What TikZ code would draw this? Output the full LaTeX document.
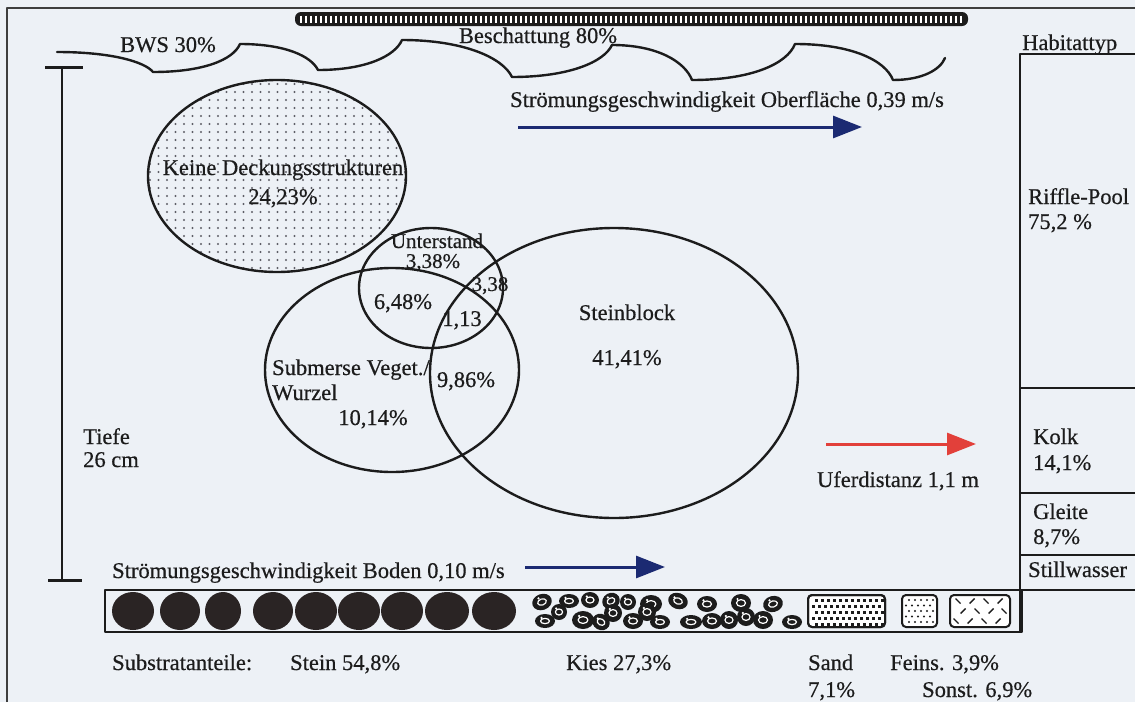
\documentclass[tikz,border=0pt]{standalone}
\usepackage{fontspec}
\setmainfont{Liberation Serif}
\newfontfamily\inkfont{Liberation Serif}[FakeBold=0.5]
\usetikzlibrary{arrows.meta,calc}
\definecolor{paper}{HTML}{EDF1F6}
\definecolor{ink}{HTML}{1C1C1C}
\definecolor{stone}{HTML}{2A2424}
\definecolor{dotgray}{HTML}{5E5E66}
\definecolor{flowblue}{HTML}{1B2A72}
\definecolor{shorered}{HTML}{E2403A}
\begin{document}
\begin{tikzpicture}[x=1pt,y=-1pt,line join=round,
  lbl/.style={text=ink,inner sep=0pt,font=\inkfont\fontsize{22.5}{26}\selectfont},
  lblw/.style={lbl,anchor=base west},
  lblc/.style={lbl,anchor=base},
  lbls/.style={lblc,font=\inkfont\fontsize{21}{24}\selectfont},
  outline/.style={draw=ink,line width=2.4pt},
  thinline/.style={draw=ink,line width=2pt},
  flowarrow/.style={line width=3pt,-{Triangle[length=29pt,width=22pt]}},
  subbox/.style={draw=ink,line width=2pt,rounded corners=4pt,fill=white}]
\useasboundingbox (0,0) rectangle (1135,702);
\fill[paper] (0,0) rectangle (1135,702);
% sheet edge
\draw[ink!85,line width=2.5pt] (7,702) -- (7,8) -- (1135,8);

% canopy bar
\fill[ink,rounded corners=6pt] (295,12) rectangle (968,26);
\foreach \x in {301,306,...,963} \draw[white,line width=1.8pt] (\x,15.5) -- (\x,22.5);

% bank line (scalloped)
\coordinate (s0) at (57,52);
\coordinate (s1) at (153,72);
\coordinate (s2) at (240,44);
\coordinate (s3) at (318,70);
\coordinate (s4) at (402,40);
\coordinate (s5) at (512,77);
\coordinate (s6) at (612,45);
\coordinate (s7) at (692,80);
\coordinate (s8) at (795,44);
\coordinate (s9) at (893,80);
\coordinate (s10) at (945,58);
\draw[outline,line cap=round]
  (s0) .. controls (112,52) and (145,62) .. (s1)
       .. controls (203,72) and (233,60) .. (s2)
       .. controls (285,44) and (311,56) .. (s3)
       .. controls (366,70) and (395,56) .. (s4)
       .. controls (464,40) and (503,58) .. (s5)
       .. controls (569,77) and (604,62) .. (s6)
       .. controls (658,45) and (685,62) .. (s7)
       .. controls (751,80) and (787,64) .. (s8)
       .. controls (851,44) and (885,60) .. (s9)
       .. controls (922,80) and (940,70) .. (s10);

\node[lblc] (bws) at (168,52) {BWS 30\%};
\node[lblc] (shade) at (538,43) {Beschattung 80\%};
\node[lblw] (vsurf) at (510,107) {Strömungsgeschwindigkeit Oberfläche 0,39 m/s};
\coordinate (vs1) at (518,127);
\coordinate (vs2) at (862,127);
\draw[flowarrow,flowblue] (vs1) -- (vs2);

% depth scale
\coordinate (dTop) at (62,67);
\coordinate (dBot) at (62,580);
\draw[ink,line width=1.6pt] (dTop) -- (dBot);
\draw[ink,line width=3pt] (45,67) -- (83,67);
\draw[ink,line width=3pt] (48,580) -- (82,580);
\node[lblw] (depth1) at (83,444) {Tiefe};
\node[lblw] (depth2) at (83,467) {26 cm};

% cover structures
\begin{scope}
  \clip (277,176) ellipse (129 and 96);
  \foreach \yy in {84,92,...,270}
    \foreach \xx in {150,158.5,...,406}
      \fill[dotgray] (\xx,\yy) circle (1.15);
\end{scope}
\draw[outline] (277,176) ellipse (129 and 96);
\node[lblc] (none1) at (283,175) {Keine Deckungsstrukturen};
\node[lblc] (none2) at (283,204) {24,23\%};

\draw[outline] (614,373) ellipse (184 and 145);
\draw[outline] (392,370) ellipse (127 and 102);
\draw[outline] (431,288) ellipse (72 and 60);

\node[lbls] (ust1) at (437,248) {Unterstand};
\node[lbls] (ust2) at (433,268) {3,38\%};
\node[lblc] (ov1) at (403,309) {6,48\%};
\node[lbls] (ov2) at (490,291) {3,38};
\node[lblc] (ov3) at (462,326) {1,13};
\node[lblc] (stb1) at (627,320) {Steinblock};
\node[lblc] (stb2) at (627,365) {41,41\%};
\node[lblw] (veg1) at (272,375) {Submerse Veget./};
\node[lblw] (veg2) at (272,400) {Wurzel};
\node[lblc] (veg3) at (373,425) {10,14\%};
\node[lblc] (ov4) at (466,387) {9,86\%};

% bank distance
\coordinate (ud1) at (826,444);
\coordinate (ud2) at (976,444);
\draw[flowarrow,shorered] (ud1) -- (ud2);
\node[lblc] (ufer) at (898,487) {Uferdistanz 1,1 m};

% habitat column
\draw[thinline] (1135,54) -- (1020,54) -- (1020,632);
\foreach \yy in {388,493,555,590} \draw[thinline] (1020,\yy) -- (1135,\yy);
\node[lblw] (hab) at (1022,50) {Habitattyp};
\node[lblw] (rp1) at (1028,204) {Riffle-Pool};
\node[lblw] (rp2) at (1028,229) {75,2 \%};
\node[lblw] (kolk1) at (1033,444) {Kolk};
\node[lblw] (kolk2) at (1033,470) {14,1\%};
\node[lblw] (gl1) at (1033,519) {Gleite};
\node[lblw] (gl2) at (1033,544) {8,7\%};
\node[lblw] (still) at (1028,577) {Stillwasser};

% bottom flow
\node[lblw] (vbot) at (112,578) {Strömungsgeschwindigkeit Boden 0,10 m/s};
\coordinate (vb1) at (525,567);
\coordinate (vb2) at (665,567);
\draw[flowarrow,flowblue] (vb1) -- (vb2);

% substrate strip
\draw[thinline,line width=2.4pt] (105,590) rectangle (1022,632);
\foreach \xx/\rr in {133/21,180/20,223/18,273/20,316/21,359/21,402/21,447/22,494/22}
  \fill[stone] (\xx,611) ellipse (\rr pt and 19pt);
% gravel
\foreach \xx/\yy/\rx/\ry/\rot in {
  542/602/10/8/20, 569/601/10/7/0, 590/600/9/8/0, 611/601/9/8/30, 628/602/8/8/0,
  651/604/11/9/0, 678/601/10/8/-20, 707/604/10/8/0, 741/603/10/9/0, 773/604/10/8/15,
  545/621/10/7/0, 559/612/8/8/0, 583/620/11/9/0, 601/622/9/8/-30, 613/613/9/9/0,
  633/621/10/8/0, 647/612/9/9/0, 660/622/10/7/0, 691/622/11/7/0, 712/621/10/8/0,
  729/620/9/9/0, 746/617/9/9/0, 763/620/10/9/0, 792/622/10/7/0}
{
  \fill[ink,rotate around={\rot:(\xx,\yy)}] (\xx,\yy) ellipse (\rx pt and \ry pt);
  \draw[white,line width=1.2pt,rotate around={\rot:(\xx,\yy)}] (\xx,\yy) ellipse (0.45*\rx pt and 0.38*\ry pt);
  \fill[white] (\xx-0.35*\rx,\yy-0.45*\ry) circle (1.2);
}
% sand
\draw[subbox] (808,595) rectangle (885,627);
\foreach \yy [count=\i] in {599,605,...,623}
  \foreach \xx in {812,818,...,880}
    \fill[ink] ({\xx+mod(\i,2)*3},\yy) rectangle ++(3.4,3.4);
\draw[thinline,rounded corners=4pt] (808,595) rectangle (885,627);
% fine sediment
\draw[subbox] (902,595) rectangle (937,627);
\foreach \yy [count=\i] in {600,605.5,...,624}
  \foreach \xx in {906,912,...,934}
    \fill[ink] ({\xx+mod(\i,2)*3},\yy) circle (1.2);
% other
\draw[subbox] (950,595) rectangle (1010,627);
\foreach \xx/\yy/\d in {958/601/1,972/601/-1,986/601/1,1000/601/-1,
  963/611/-1,977/611/1,991/611/-1,1004/611/1,
  956/621/1,970/621/-1,984/621/1,998/621/-1}
  \draw[ink,line width=1.4pt] (\xx-2.5,\yy-2.5*\d) -- (\xx+2.5,\yy+2.5*\d);

% substrate labels
\node[lblw] (sub) at (112,670) {Substratanteile:};
\node[lblw] (stein) at (290,670) {Stein 54,8\%};
\node[lblw] (kies) at (566,670) {Kies 27,3\%};
\node[lblw] (sand1) at (808,670) {Sand};
\node[lblw] (sand2) at (808,697) {7,1\%};
\node[lblw] (feins) at (890,670) {Feins. 3,9\%};
\node[lblw] (sonst) at (922,697) {Sonst. 6,9\%};
\end{tikzpicture}
\end{document}
